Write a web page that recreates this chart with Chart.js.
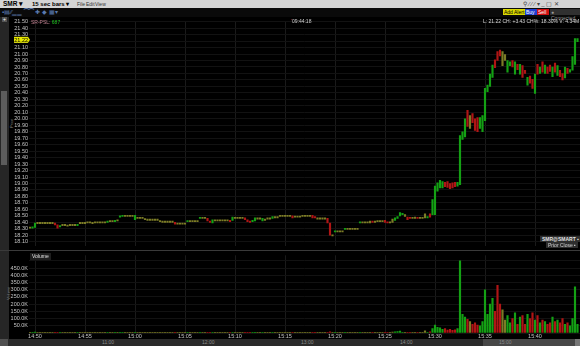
<!DOCTYPE html>
<html><head><meta charset="utf-8">
<script src="https://cdn.jsdelivr.net/npm/chart.js@4/dist/chart.umd.min.js"></script>
<style>
html,body{margin:0;padding:0;background:#000;width:580px;height:346px;overflow:hidden;font-family:"Liberation Sans",Arial,sans-serif;}
.abs{position:absolute;white-space:nowrap;}
#topbar{left:0;top:0;width:580px;height:8px;background:#d4d4d4;}
#topbar span{position:absolute;top:0;font-size:5px;line-height:8px;color:#000;}
#tool{left:0;top:8px;width:580px;height:9px;background:#0a0a0a;}
#leftstrip{left:0;top:17px;width:9px;height:322px;background:#262626;}
#thumb{left:1px;top:91px;width:6px;height:74px;background:#5c5c5c;}
.btn{position:absolute;top:9px;height:6px;font-size:5px;line-height:6px;padding:0 1px;}
#sep{left:0;top:250px;width:580px;height:1px;background:#3a3a3a;}
#bottom{left:0;top:339px;width:580px;height:7px;background:#2a2a2a;}
#bthumb{left:483px;top:339px;width:93px;height:7px;background:#474747;}
.bl{position:absolute;top:339px;font-size:5px;line-height:7px;color:#8a8a8a;}
canvas{position:absolute;}
</style></head>
<body>
<div id="topbar" class="abs">
 <span style="left:3px;font-weight:bold;font-size:6.5px;">SMR ▾</span>
 <span style="left:32px;font-weight:bold;font-size:6px;">15 sec bars ▾</span>
 <span style="left:77px;color:#333;">File</span>
 <span style="left:86px;color:#333;">Edit</span>
 <span style="left:95px;color:#333;">View</span>
 <span style="left:523px;color:#444;font-size:6px;">⚲ ⁄ ⁄ ⁄ ▾ _ ▢ ✕</span>
</div>
<div id="tool" class="abs">
 <span class="abs" style="left:2px;top:0;font-size:6px;line-height:8px;color:#5a7ab0;">▪▤⁄⁄▁▁ ⁀⁀ ✚ ◆ ▦▾</span>
</div>
<div class="btn" style="left:503px;background:#d8d800;color:#000;">Add Alert</div>
<div class="btn" style="left:525px;background:#1e3fd0;color:#fff;width:10px;">Buy</div>
<div class="btn" style="left:537px;background:#d01010;color:#fff;width:10px;">Sell</div>
<div class="btn" style="left:550px;background:#303030;color:#9a9a9a;">● Connected</div>
<div id="leftstrip" class="abs"></div>
<div id="thumb" class="abs"></div>
<div class="abs" style="left:2px;top:17px;width:5px;height:5px;background:#555;color:#fff;font-size:5px;line-height:5px;text-align:center;">+</div>
<div class="abs" style="left:9px;top:128px;font-size:4px;color:#888;transform:rotate(-90deg);transform-origin:left top;">Price</div>
<div class="abs" style="left:6px;top:300px;font-size:4px;color:#888;transform:rotate(-90deg);transform-origin:left top;">Volume</div>
<div id="sep" class="abs"></div>
<div id="bottom" class="abs"></div>
<div id="bthumb" class="abs"></div>
<div class="abs" style="left:0;top:339px;width:8px;height:7px;background:#505050;"></div>
<div class="abs" style="left:575px;top:339px;width:5px;height:7px;background:#777;"></div>
<div class="bl" style="left:102px;">11:00</div>
<div class="bl" style="left:202px;">12:00</div>
<div class="bl" style="left:301px;">13:00</div>
<div class="bl" style="left:400px;">14:00</div>
<div class="bl" style="left:499px;">15:00</div>
<canvas id="pc" width="580" height="233" style="left:0;top:17px;"></canvas>
<canvas id="vc" width="580" height="88" style="left:0;top:251px;"></canvas>
<div class="abs" style="left:31px;top:19px;font-size:5px;color:#c08090;">SR-PSL: <span style="color:#20c020;">687</span></div>
<div class="abs" style="left:291px;top:18px;font-size:5px;color:#d0d0d0;"><span style="color:#c03040;">'</span>09:44:18</div>
<div class="abs" style="left:483px;top:18px;font-size:5px;color:#d8d8d8;">L: 21.22 CH: +3.43 CH%: 18.30% V: 4.34M</div>
<div class="abs" style="left:540px;top:236px;font-size:5px;line-height:6px;background:#2e2e2e;color:#e0e0e0;font-weight:bold;padding:0 2px;">SMR@SMART ▪</div>
<div class="abs" style="left:546px;top:242px;font-size:5px;line-height:6px;background:#2e2e2e;color:#d0d0d0;padding:0 2px;">Prior Close ▪</div>
<div class="abs" style="left:30px;top:253px;font-size:5px;line-height:7px;background:#1e1e1e;color:#e0e0e0;padding:0 2px;">Volume</div>
<script>
// 15-second bars starting 14:49:30 (minutes after 14:00)
const startMinute = 49.5;
const barMinutes = 0.25;
const priceLow = [
18.31,18.31,18.32,18.38,18.38,18.38,18.38,18.38,18.38,18.38,
18.36,18.31,18.33,18.35,18.35,18.34,18.35,18.35,18.35,18.35,
18.38,18.38,18.38,18.39,18.39,18.38,18.39,18.39,18.39,18.39,
18.39,18.40,18.41,18.41,18.41,18.42,18.48,18.49,18.49,18.49,
18.49,18.49,18.44,18.46,18.46,18.46,18.44,18.43,18.43,18.43,
18.43,18.43,18.41,18.40,18.40,18.40,18.40,18.40,18.37,18.37,
18.37,18.37,18.37,18.41,18.41,18.41,18.41,18.41,18.46,18.46,
18.46,18.42,18.40,18.39,18.42,18.42,18.42,18.42,18.42,18.42,
18.41,18.43,18.46,18.46,18.46,18.46,18.44,18.41,18.40,18.41,
18.42,18.45,18.45,18.42,18.43,18.45,18.45,18.46,18.47,18.47,
18.49,18.49,18.49,18.49,18.49,18.47,18.48,18.48,18.48,18.49,
18.49,18.49,18.49,18.47,18.47,18.45,18.45,18.45,18.45,18.39,
18.20,18.19,18.25,18.25,18.25,18.25,18.29,18.29,18.29,18.29,
18.29,18.29,18.39,18.39,18.39,18.39,18.39,18.40,18.40,18.41,
18.41,18.41,18.40,18.39,18.39,18.40,18.43,18.46,18.50,18.52,
18.49,18.44,18.46,18.46,18.46,18.46,18.46,18.46,18.47,18.47,
18.48,18.52,18.52,18.88,18.93,18.93,18.95,18.94,18.92,18.93,
18.95,18.96,18.98,19.68,19.72,19.88,19.85,19.94,19.82,19.80,
19.85,19.80,19.97,20.42,20.50,20.64,20.79,20.90,20.97,20.82,
20.90,20.72,20.82,20.80,20.69,20.76,20.69,20.64,20.70,20.52,
20.55,20.47,20.39,20.69,20.70,20.72,20.70,20.70,20.73,20.65,
20.72,20.67,20.65,20.60,20.63,20.70,20.72,20.75,20.84,21.19
];
const priceHigh = [
18.32,18.33,18.39,18.39,18.39,18.39,18.39,18.39,18.39,18.39,
18.39,18.36,18.35,18.36,18.36,18.35,18.36,18.36,18.36,18.37,
18.39,18.39,18.40,18.40,18.40,18.39,18.40,18.40,18.40,18.40,
18.40,18.41,18.42,18.42,18.43,18.43,18.50,18.50,18.50,18.50,
18.50,18.50,18.51,18.47,18.47,18.47,18.45,18.44,18.44,18.44,
18.44,18.44,18.42,18.41,18.41,18.41,18.41,18.41,18.40,18.38,
18.38,18.38,18.38,18.42,18.42,18.42,18.42,18.42,18.47,18.47,
18.47,18.46,18.42,18.44,18.43,18.43,18.43,18.43,18.43,18.43,
18.43,18.48,18.47,18.47,18.47,18.47,18.47,18.44,18.42,18.43,
18.47,18.46,18.46,18.46,18.44,18.46,18.46,18.49,18.48,18.48,
18.50,18.50,18.50,18.50,18.50,18.50,18.49,18.49,18.49,18.50,
18.50,18.50,18.50,18.51,18.49,18.46,18.46,18.46,18.46,18.46,
18.39,18.20,18.26,18.26,18.26,18.26,18.30,18.30,18.30,18.30,
18.30,18.30,18.40,18.40,18.40,18.40,18.42,18.41,18.41,18.42,
18.42,18.42,18.43,18.40,18.40,18.45,18.47,18.49,18.55,18.54,
18.52,18.48,18.47,18.47,18.48,18.47,18.47,18.47,18.53,18.48,
18.53,18.75,18.96,19.01,19.05,19.03,19.02,19.03,19.00,19.01,
19.02,19.02,19.74,19.80,20.00,20.13,20.05,20.08,20.00,20.02,
20.02,20.05,20.47,20.52,20.69,20.83,20.91,21.04,21.06,21.04,
20.99,20.90,20.88,20.90,20.88,20.84,20.84,20.82,20.75,20.64,
20.66,20.61,20.69,20.84,20.80,20.88,20.83,20.80,20.83,20.80,
20.86,20.82,20.75,20.70,20.80,20.78,20.76,20.96,21.24,21.24
];
// u = up, d = down, n = unchanged
const barDir = (
"nuunnnnnnn" + "ddunnnnnnu" + "nnnnnnnnnn" + "nunnunuunn" +
"nnunnnnnnn" + "nnnnnnnndn" + "nnnunnnnun" + "nddunnnnnn" +
"dunnnnddduu".slice(0,10) + "unnunnnunn" + "nnnnndnnnn" + "nnnddnnnnd" +
"dnunnnunnn" + "nnunnnndnn" + "nnddnnuuuu" + "nddnndnnnun".slice(0,10) +
"duuuuudddd" + "duuuudndddd".slice(0,10) + "uuuuuudddnu".slice(0,10) + "nuudududdud".slice(0,10) +
"ddudududdu" + "dudduduuuu"
).split("");
// volume in thousands of shares
const volumeK = [
3,2,6,2,1.5,1,1.5,1,2,1,
3,5,3,1.5,1,1,1.5,1,1,2,
3,1.5,1,1.5,1,1,1,1.5,1,1,
1,2,2,1.5,2,1,5,2,1,1,
1,1,4,2,1,1,2,1.5,1,1,
1,1,2,1,1,1,1,1,3,1.5,
1,1,1,2,1,1,1,1,3,1,
1,3,2,3,1,1,1,1,1,1,
2,3,1,1,1,1,2,3,2,2,
3,1,1,2,1,1,1,3,1.5,1,
1.5,1,1,1,1,2,1,1,1,1,
1,1,1,3,2,1,1,1,1,4,
8,3,2,1,1,1,2,1,1,1,
1,1,3,1,1,1,3,1,1,1.5,
1,1,3,1,1,6,8,10,14,5,
4,5,2,1,3,1,1,1,15,3,
8,30,55,40,35,25,30,20,25,18,
22,30,500,130,110,95,80,60,70,55,
50,80,300,130,200,240,150,330,200,160,
90,120,70,100,140,60,110,120,60,130,
100,140,90,120,70,90,80,60,70,110,
80,90,70,100,60,70,50,100,320,60
];

const C = {u:'#14a014', d:'#b01515', n:'#7c7c26'};
const xs = priceLow.map((_, i) => startMinute + i * barMinutes);
const xMin = 49.4, xMax = 104.5;
const fmtTime = v => { const h = 14 + Math.floor(v/60); const m = Math.round(v % 60); return h + ':' + String(m).padStart(2,'0'); };
const gridV = '#1a1a1a', gridH = '#121212';
const tickFont = {family:'Liberation Sans', size:5.5};

const lastPrice = 21.22;
const tagPlugin = {
  id:'tag',
  afterDraw(chart){
    const y = chart.scales.y.getPixelForValue(lastPrice);
    const ctx = chart.ctx;
    ctx.save();
    ctx.fillStyle = '#e6e600';
    ctx.fillRect(14, y-3, 14, 6);
    ctx.beginPath(); ctx.moveTo(28,y-3); ctx.lineTo(30,y); ctx.lineTo(28,y+3); ctx.fill();
    ctx.fillStyle = '#000'; ctx.font = '5.5px Liberation Sans'; ctx.textAlign='right'; ctx.textBaseline='middle';
    ctx.fillText(lastPrice.toFixed(2), 28, y+0.5);
    ctx.restore();
  }
};

const xBase = {
  type:'linear', min:xMin, max:xMax, offset:false,
  grid:{color:gridV, drawTicks:false, offset:false},
  border:{display:false},
};

new Chart(document.getElementById('pc'), {
  type:'bar',
  data:{datasets:[{
    data: xs.map((x,i)=>({x, y:[priceLow[i], priceHigh[i]]})),
    backgroundColor: barDir.map(d=>C[d]),
    barThickness:1.5, minBarLength:1.2, borderWidth:0
  }]},
  options:{
    animation:false, responsive:false, devicePixelRatio:1,
    layout:{padding:0},
    plugins:{legend:{display:false}, tooltip:{enabled:false}},
    scales:{
      x:Object.assign({}, xBase, {ticks:{display:false, stepSize:5, includeBounds:false}, afterFit(s){s.height=0;}}),
      y:{min:18.039, max:21.506, position:'left',
         grid:{color:gridH, drawTicks:false}, border:{display:false},
         ticks:{stepSize:0.1, includeBounds:false, autoSkip:false, color:'#c4c4c4', font:tickFont, padding:1,
                callback:v=>v.toFixed(2)},
         afterFit(s){s.width=29;}}
    }
  },
  plugins:[tagPlugin]
});

new Chart(document.getElementById('vc'), {
  type:'bar',
  data:{datasets:[{
    data: xs.map((x,i)=>({x, y:volumeK[i]})),
    backgroundColor: barDir.map(d=>C[d]),
    barThickness:1.5, borderWidth:0
  }]},
  options:{
    animation:false, responsive:false, devicePixelRatio:1,
    layout:{padding:0},
    plugins:{legend:{display:false}, tooltip:{enabled:false}},
    scales:{
      x:Object.assign({}, xBase, {ticks:{display:true, stepSize:5, includeBounds:false, autoSkip:false, maxRotation:0,
            color:'#c4c4c4', font:tickFont, padding:0, callback:v=>fmtTime(v)}, afterFit(s){s.height=6;}}),
      y:{min:0, max:539, position:'left',
         grid:{color:gridH, drawTicks:false}, border:{display:false},
         ticks:{stepSize:50, includeBounds:false, autoSkip:false, color:'#c4c4c4', font:tickFont, padding:1,
                callback:v=>(v<=0||v>=500)?'':v.toFixed(1)+'K'},
         afterFit(s){s.width=29;}}
    }
  }
});
</script>
</body></html>
